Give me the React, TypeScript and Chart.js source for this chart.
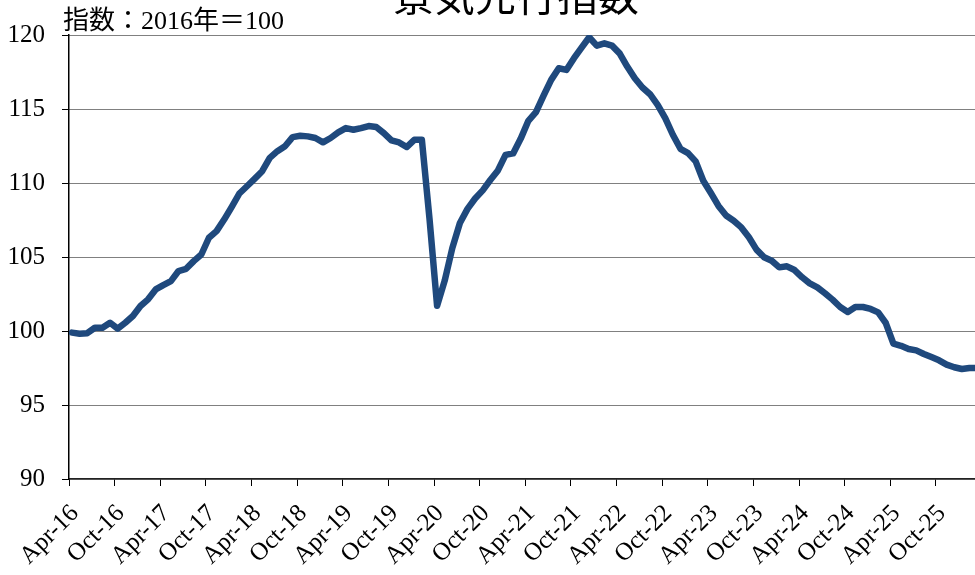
import React, { useEffect, useRef } from "react";
import { Chart, registerables } from "chart.js";

Chart.register(...registerables);

const TITLE = "景気先行指数";
const UNIT_LABEL = "指数：2016年＝100";

// Half-yearly axis labels, starting at month 0 (Apr-16)
const tickLabels = [
  "Apr-16", "Oct-16", "Apr-17", "Oct-17", "Apr-18", "Oct-18", "Apr-19",
  "Oct-19", "Apr-20", "Oct-20", "Apr-21", "Oct-21", "Apr-22", "Oct-22",
  "Apr-23", "Oct-23", "Apr-24", "Oct-24", "Apr-25", "Oct-25",
];
const MONTHS_PER_TICK = 6;

// Monthly index values (2016 = 100), by calendar year
const v2016 = [99.89, 99.82, 99.85, 100.22, 100.22, 100.56, 100.16, 100.56, 101.01]; // Apr–Dec
const v2017 = [101.69, 102.14, 102.81, 103.1, 103.37, 104.05, 104.2, 104.72, 105.17, 106.3, 106.75, 107.53];
const v2018 = [108.39, 109.29, 109.78, 110.28, 110.8, 111.7, 112.15, 112.48, 113.1, 113.19, 113.15, 113.04];
const v2019 = [112.75, 113.04, 113.42, 113.71, 113.6, 113.71, 113.85, 113.78, 113.37, 112.88, 112.74, 112.43];
const v2020 = [112.92, 112.92, 107.6, 101.7, 103.4, 105.6, 107.3, 108.25, 108.95, 109.5, 110.2, 110.85];
const v2021 = [111.9, 112.0, 113.0, 114.2, 114.79, 115.91, 116.97, 117.75, 117.64, 118.43, 119.15, 119.85];
const v2022 = [119.28, 119.44, 119.28, 118.76, 117.87, 117.08, 116.45, 116.0, 115.28, 114.38, 113.26, 112.31];
const v2023 = [112.02, 111.46, 110.15, 109.32, 108.45, 107.8, 107.45, 107.0, 106.33, 105.5, 104.98, 104.75];
const v2024 = [104.3, 104.37, 104.12, 103.63, 103.22, 102.95, 102.55, 102.12, 101.62, 101.28, 101.62, 101.62];
const v2025 = [101.49, 101.26, 100.54, 99.14, 99.0, 98.78, 98.69, 98.45, 98.24, 98.02, 97.73, 97.55];
const v2026 = [97.43, 97.5, 97.5]; // Jan–Mar

const indexValues = [
  ...v2016, ...v2017, ...v2018, ...v2019, ...v2020,
  ...v2021, ...v2022, ...v2023, ...v2024, ...v2025, ...v2026,
];

// Observations are dated mid-month; the axis counts months from Apr-16
const OBS_OFFSET = 0.4;
const X_MIN = 0;
const X_MAX = 119.13;

const Y_MIN = 90;
const Y_MAX = 120;
const Y_STEP = 5;

const LINE_COLOR = "#1F497D";
const SERIF = '"Liberation Serif", "Noto Sans CJK JP", serif';

const headerText = {
  id: "headerText",
  afterDraw(chart: any) {
    const { ctx, chartArea } = chart;
    ctx.save();
    ctx.fillStyle = "#000";
    ctx.textBaseline = "alphabetic";
    ctx.textAlign = "center";
    ctx.font = '41px "Noto Sans CJK JP", sans-serif';
    ctx.fillText(TITLE, (chartArea.left + chartArea.right) / 2 - 6, chartArea.top - 24);
    ctx.textAlign = "left";
    ctx.font = `26px ${SERIF}`;
    ctx.fillText(UNIT_LABEL, chartArea.left - 6, chartArea.top - 6);
    ctx.restore();
  },
};

export default function App() {
  const canvasRef = useRef<HTMLCanvasElement | null>(null);

  useEffect(() => {
    if (!canvasRef.current) return;
    const points = indexValues.map((v, i) => ({ x: i + OBS_OFFSET, y: v }));

    const chart = new Chart(canvasRef.current, {
      type: "line",
      data: {
        datasets: [
          {
            data: points,
            borderColor: LINE_COLOR,
            backgroundColor: LINE_COLOR,
            borderWidth: 6.5,
            pointRadius: 0,
            tension: 0,
            borderJoinStyle: "round",
            borderCapStyle: "round",
          },
        ],
      },
      options: {
        animation: false,
        responsive: false,
        maintainAspectRatio: false,
        devicePixelRatio: 1,
        layout: { padding: { top: 75, right: 0, bottom: 0, left: 0 } },
        plugins: {
          legend: { display: false },
          title: { display: false },
          tooltip: { enabled: false },
        },
        scales: {
          x: {
            type: "linear",
            min: X_MIN,
            max: X_MAX,
            afterBuildTicks: (scale: any) => {
              scale.ticks = tickLabels.map((_, k) => ({ value: k * MONTHS_PER_TICK }));
            },
            afterFit: (scale: any) => {
              scale.height = 96;
              scale.paddingLeft = 0;
              scale.paddingRight = 0;
            },
            grid: {
              display: true,
              drawOnChartArea: false,
              drawTicks: true,
              tickLength: 7,
              tickColor: "#000",
              tickWidth: 1,
            },
            border: { display: true, color: "#222", width: 1.5 },
            ticks: {
              autoSkip: false,
              maxRotation: 45,
              minRotation: 45,
              padding: 13,
              labelOffset: 6,
              color: "#000",
              font: { family: SERIF, size: 25 },
              callback: (value: any) => {
                const k = Math.round(Number(value) / MONTHS_PER_TICK);
                return tickLabels[k] ?? "";
              },
            },
          },
          y: {
            type: "linear",
            min: Y_MIN,
            max: Y_MAX,
            afterFit: (scale: any) => {
              scale.width = 69;
            },
            grid: {
              display: true,
              color: "#000",
              lineWidth: 1,
              drawTicks: true,
              tickLength: 7,
              tickColor: "#000",
              tickBorderDash: [],
            },
            // dotted horizontal gridlines; the axis line itself stays solid
            border: { display: true, color: "#000", width: 1.5, dash: [1, 1] },
            ticks: {
              stepSize: Y_STEP,
              padding: 17,
              color: "#000",
              font: { family: SERIF, size: 25 },
            },
          },
        },
      } as any,
      plugins: [headerText],
    });

    return () => chart.destroy();
  }, []);

  return (
    <div
      style={{
        position: "fixed",
        left: 0,
        top: 0,
        width: 975,
        height: 575,
        overflow: "hidden",
        background: "#fff",
      }}
    >
      <div style={{ position: "absolute", left: 0, top: -40, width: 975, height: 615 }}>
        <canvas ref={canvasRef} width={975} height={615} style={{ width: 975, height: 615 }} />
      </div>
    </div>
  );
}
